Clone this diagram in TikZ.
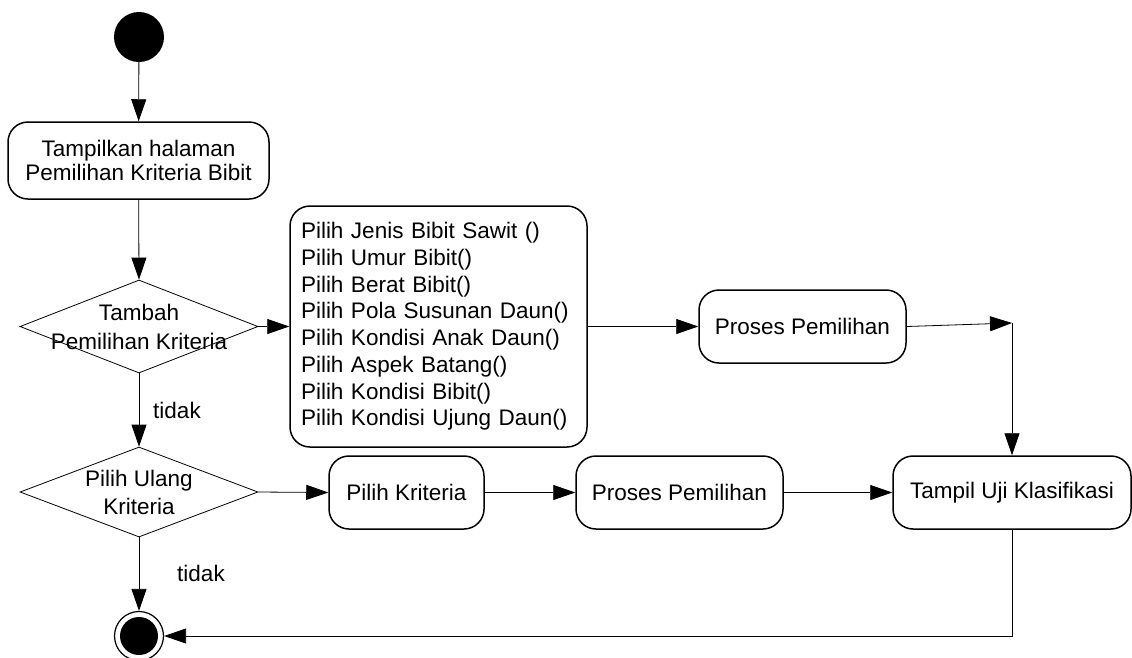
\documentclass[tikz,border=0pt]{standalone}
\usepackage{fontspec}
\setmainfont{Liberation Sans}
\usetikzlibrary{arrows.meta,shapes.geometric}
\begin{document}
\begin{tikzpicture}[x=1pt,y=-1pt,
  txt/.style={font=\fontsize{22.5}{25}\selectfont, align=center, inner sep=0pt},
  act/.style={draw, line width=1.5pt, rounded corners=20pt, inner sep=0pt,
    font=\fontsize{22.5}{23.5}\selectfont, align=center},
  dec/.style={draw, line width=0.8pt, diamond, inner sep=0pt},
  flow/.style={line width=0.8pt, -{Triangle[length=22pt,width=15pt]}},
  plain/.style={line width=0.8pt}
]
\useasboundingbox (0,0) rectangle (1132,657);

% start
\node[circle, fill=black, minimum size=50pt, inner sep=0pt] (start) at (139,37) {};

% first activity
\node[act, minimum width=261pt, minimum height=77pt] (show) at (138.5,160.5)
  {Tampilkan halaman\\Pemilihan Kriteria Bibit};

% decision 1
\node[dec, minimum width=238pt, minimum height=93pt] (d1) at (139,326.5) {};
\node[txt, font=\fontsize{22.5}{29}\selectfont] (d1t) at (139,327) {Tambah\\Pemilihan Kriteria};

% list of choices
\node[act, text width=275pt, inner xsep=11pt, minimum height=241pt, align=left,
  font=\fontsize{22.5}{26.7}\selectfont] (list) at (438.5,326.5)
  {Pilih Jenis Bibit Sawit ()\\
   Pilih Umur Bibit()\\
   Pilih Berat Bibit()\\
   Pilih Pola Susunan Daun()\\
   Pilih Kondisi Anak Daun()\\
   Pilih Aspek Batang()\\
   Pilih Kondisi Bibit()\\
   Pilih Kondisi Ujung Daun()};

% proses 1
\node[act, minimum width=207pt, minimum height=73pt] (p1) at (802.5,326.5) {Proses Pemilihan};
\coordinate (j) at (1012,323);

% decision 2
\node[dec, minimum width=238pt, minimum height=90pt] (d2) at (139,492) {};
\node[txt, font=\fontsize{22.5}{28}\selectfont] (d2t) at (139,492) {Pilih Ulang\\Kriteria};

% bottom row
\node[act, minimum width=155pt, minimum height=73pt] (pk) at (406.5,492.5) {Pilih Kriteria};
\node[act, minimum width=207pt, minimum height=73pt] (p2) at (679.5,492.5) {Proses Pemilihan};
\node[act, minimum width=238pt, minimum height=73pt] (tu) at (1012,492.5) {Tampil Uji Klasifikasi};

% end
\node[circle, draw, line width=1.2pt, minimum size=49pt, inner sep=0pt] (end) at (139,636) {};
\node[circle, fill=black, minimum size=38pt, inner sep=0pt] (endin) at (end.center) {};

% labels
\node[txt] (t1) at (177,410) {tidak};
\node[txt] (t2) at (201,573) {tidak};

% connectors
\draw[flow] (start) -- (show);
\draw[flow] (show) -- (d1.north);
\draw[flow] (d1.east) -- (list.west);
\draw[flow] (list.east) -- (p1.west);
\draw[flow] (p1.east) -- (j);
\draw[flow] (j) -- (tu.north);
\draw[flow] (d1.south) -- (d2.north);
\draw[flow] (d2.east) -- (pk.west);
\draw[flow] (pk.east) -- (p2.west);
\draw[flow] (p2.east) -- (tu.west);
\draw[flow] (d2.south) -- (end.north);
\draw[flow] (tu.south) |- (end.east);
\end{tikzpicture}
\end{document}
